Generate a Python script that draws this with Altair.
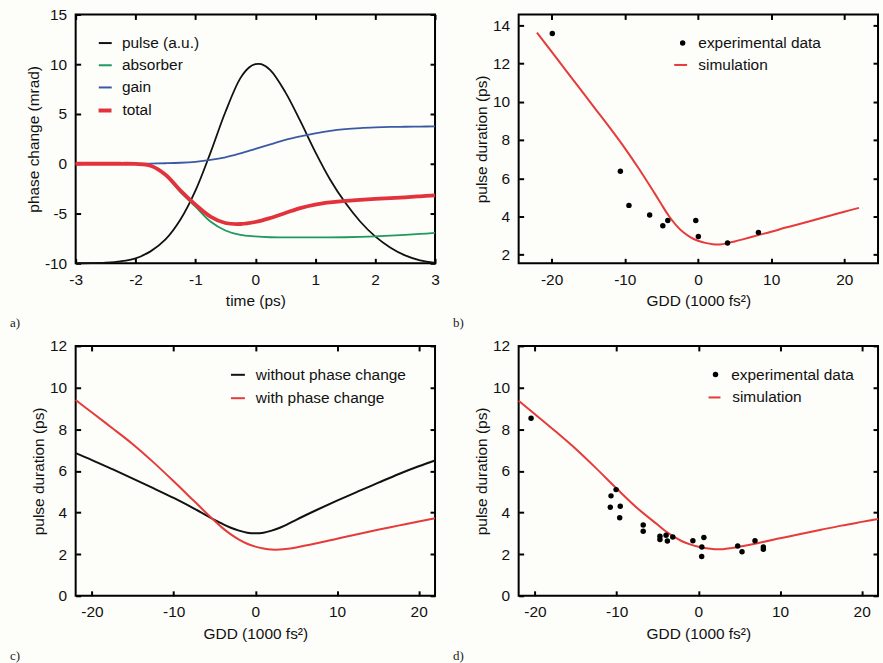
import altair as alt
import pandas as pd

# ---------------- data ----------------
# panel a: phase change vs time
time_pulse = [-3.0, -2.75, -2.5, -2.25, -2.0, -1.75, -1.5, -1.25, -1.0, -0.75, -0.5, -0.25,
              -0.1, 0.0, 0.1, 0.25, 0.5, 0.75, 1.0, 1.25, 1.5, 1.75, 2.0, 2.25, 2.5, 2.75, 3.0]
pulse_a = [-10.0, -9.98, -9.93, -9.8, -9.5, -8.8, -7.6, -5.6, -2.7, 1.1, 5.2, 8.6,
           9.7, 10.0, 10.0, 9.4, 7.2, 4.3, 1.2, -1.6, -3.9, -5.8, -7.3, -8.4, -9.2, -9.7, -9.95]
time_a = [-3.0, -2.75, -2.5, -2.25, -2.0, -1.75, -1.5, -1.25, -1.0, -0.75, -0.5, -0.25,
          0.0, 0.25, 0.5, 0.75, 1.0, 1.25, 1.5, 1.75, 2.0, 2.25, 2.5, 2.75, 3.0]
absorber_a = [0.0, 0.0, 0.0, 0.0, -0.02, -0.2, -1.15, -2.85, -4.3, -5.8, -6.7, -7.15,
              -7.3, -7.38, -7.4, -7.4, -7.4, -7.4, -7.38, -7.35, -7.3, -7.22, -7.14, -7.05, -6.95]
gain_a = [0.0, 0.0, 0.0, 0.0, 0.0, 0.02, 0.05, 0.1, 0.2, 0.38, 0.65, 1.05,
          1.5, 1.95, 2.4, 2.75, 3.05, 3.3, 3.47, 3.58, 3.65, 3.7, 3.72, 3.74, 3.75]
total_a = [0.0, 0.0, 0.0, 0.0, -0.02, -0.2, -1.1, -2.7, -4.1, -5.3, -5.95, -6.05,
           -5.85, -5.45, -4.95, -4.45, -4.1, -3.88, -3.72, -3.62, -3.53, -3.45, -3.37, -3.27, -3.17]
series_thin_a = ["pulse (a.u.)", "absorber", "gain"]
colors_thin_a = ["#111111", "#1d9a5c", "#3a5aa6"]
series_total_a = ["total"]
color_total_a = ["#e2323c"]

# panel b: experimental data + simulation
gdd_exp_b = [-19.9, -10.6, -9.43, -6.6, -4.8, -4.12, -0.3, 0.05, 4.04, 8.26]
dur_exp_b = [13.57, 6.37, 4.58, 4.08, 3.51, 3.79, 3.79, 2.95, 2.61, 3.16]
gdd_sim_b = [-22, -20, -18, -16, -14, -12, -10, -8, -6, -5, -4, -3, -2, -1, 0, 1, 2, 3, 4, 5,
             6, 8, 10, 12, 14, 16, 18, 20, 22]
dur_sim_b = [13.62, 12.62, 11.62, 10.62, 9.62, 8.62, 7.58, 6.46, 5.26, 4.64, 4.04, 3.55, 3.17,
             2.91, 2.73, 2.62, 2.55, 2.54, 2.6, 2.69, 2.79, 3.0, 3.2, 3.42, 3.62, 3.83, 4.04,
             4.25, 4.45]

# panel c: simulations with / without phase change
gdd_c = [-22, -20, -17.5, -15, -12.5, -10, -7.5, -5, -4, -3, -2, -1, 0, 1, 2, 3, 4, 5,
         7.5, 10, 12.5, 15, 17.5, 20, 22]
without_c = [6.85, 6.52, 6.08, 5.63, 5.17, 4.7, 4.19, 3.65, 3.45, 3.27, 3.13, 3.03, 3.0, 3.03,
             3.13, 3.27, 3.45, 3.65, 4.12, 4.57, 5.0, 5.42, 5.84, 6.22, 6.5]
with_c = [9.4, 8.8, 8.05, 7.28, 6.42, 5.5, 4.55, 3.6, 3.25, 2.95, 2.7, 2.5, 2.36, 2.27, 2.22,
          2.22, 2.26, 2.32, 2.52, 2.74, 2.96, 3.17, 3.37, 3.57, 3.72]

# panel d: experimental data + simulation
gdd_exp_d = [-20.48, -10.69, -10.07, -10.78, -9.56, -9.63, -6.75, -6.75, -4.7, -4.7, -3.95,
             -3.79, -3.13, -0.67, 0.43, 0.41, 0.68, 4.82, 5.35, 6.94, 7.96, 7.96]
dur_exp_d = [8.53, 4.80, 5.10, 4.25, 4.30, 3.75, 3.40, 3.10, 2.86, 2.70, 2.91,
             2.63, 2.82, 2.64, 2.34, 1.89, 2.80, 2.39, 2.12, 2.64, 2.34, 2.23]
gdd_sim_d = [-22, -20, -17.5, -15, -12.5, -10, -7.5, -5, -4, -3, -2, -1, 0, 1, 2, 3, 4, 5,
             7.5, 10, 12.5, 15, 17.5, 20, 22]
dur_sim_d = [9.37, 8.72, 7.9, 7.05, 6.12, 5.15, 4.22, 3.42, 3.1, 2.84, 2.62, 2.47, 2.36, 2.28,
             2.24, 2.24, 2.29, 2.36, 2.55, 2.76, 2.97, 3.17, 3.37, 3.55, 3.69]

ticks_a_x = [-3, -2, -1, 0, 1, 2, 3]
ticks_a_y = [-10, -5, 0, 5, 10, 15]
ticks_b_x = [-20, -10, 0, 10, 20]
ticks_b_y = [2, 4, 6, 8, 10, 12, 14]
ticks_cd_x = [-20, -10, 0, 10, 20]
ticks_cd_y = [0, 2, 4, 6, 8, 10, 12]

# ---------------- style helpers ----------------
FONT = "Liberation Sans"
FS = 15.5
TXT = "#111111"
W = 361
H_TOP = 250
H_BOT = 251
TICK = 5
TICK_COLOR = "#000000"
LABEL_EXPR = "(datum.value < 0 ? '-' : '') + abs(datum.value)"
INTERP = "catmull-rom"


def axis_main(orient, values, title):
    return alt.Axis(
        orient=orient, values=values, offset=-TICK, tickSize=TICK, tickWidth=2,
        tickColor=TICK_COLOR, domain=False, grid=False,
        labelPadding=9, labelFlush=False, labelOverlap=False, labelExpr=LABEL_EXPR,
        labelFont=FONT, labelFontSize=FS, labelColor=TXT,
        title=title, titleFont=FONT, titleFontSize=FS, titleFontWeight="normal",
        titleColor=TXT, titlePadding=6 if orient == "bottom" else 3,
    )


def axis_mirror(orient, values):
    return alt.Axis(
        orient=orient, values=values, offset=-TICK, tickSize=TICK, tickWidth=2,
        tickColor=TICK_COLOR, domain=False, grid=False, labels=False, title=None,
    )


def legend(x, y, symbol, size, **kw):
    return alt.Legend(
        orient="none", legendX=x, legendY=y, title=None, padding=0,
        symbolType=symbol, symbolSize=size, labelFont=FONT, labelFontSize=FS,
        labelColor=TXT, labelLimit=400, **kw,
    )


def panel_title(txt):
    return alt.TitleParams(
        txt, orient="bottom", anchor="start", frame="group", dx=-66, offset=8,
        font="Liberation Serif", fontSize=13, fontWeight="normal", color="#222222",
    )


# ---------------- panel a ----------------
rows = [{"t": t, "v": v, "series": series_thin_a[0]} for t, v in zip(time_pulse, pulse_a)]
for name, vals in zip(series_thin_a[1:], [absorber_a, gain_a]):
    for t, v in zip(time_a, vals):
        rows.append({"t": t, "v": v, "series": name})
df_a_thin = pd.DataFrame(rows)
df_a_total = pd.DataFrame({"t": time_a, "v": total_a, "series": "total"})

xs_a = alt.Scale(domain=[-3, 3], nice=False, zero=False)
ys_a = alt.Scale(domain=[-10, 15], nice=False, zero=False)

thin_a = alt.Chart(df_a_thin).mark_line(interpolate=INTERP, strokeWidth=1.8).encode(
    x=alt.X("t:Q", scale=xs_a, axis=axis_main("bottom", ticks_a_x, "time (ps)")),
    y=alt.Y("v:Q", scale=ys_a, axis=axis_main("left", ticks_a_y, "phase change (mrad)")),
    color=alt.Color("series:N", scale=alt.Scale(domain=series_thin_a, range=colors_thin_a),
                    legend=legend(22, 21, "stroke", 169, labelOffset=9, rowPadding=5.3,
                                  symbolStrokeWidth=2)),
)
tot_a = alt.Chart(df_a_total).mark_line(interpolate=INTERP, strokeWidth=3.8).encode(
    x=alt.X("t:Q", scale=xs_a, axis=axis_mirror("top", ticks_a_x)),
    y=alt.Y("v:Q", scale=ys_a, axis=axis_mirror("right", ticks_a_y)),
    stroke=alt.Stroke("series:N", scale=alt.Scale(domain=series_total_a, range=color_total_a),
                      legend=legend(21, 88, "stroke", 169, labelOffset=9, symbolStrokeWidth=4)),
)
panel_a = alt.layer(thin_a, tot_a).resolve_axis(x="independent", y="independent").properties(
    width=W, height=H_TOP, title=panel_title("a)"))

# ---------------- panel b ----------------
df_b_exp = pd.DataFrame({"g": gdd_exp_b, "d": dur_exp_b, "kind": "experimental data"})
df_b_sim = pd.DataFrame({"g": gdd_sim_b, "d": dur_sim_b, "kind": "simulation"})
xs_b = alt.Scale(domain=[-24.5, 24.6], nice=False, zero=False)
ys_b = alt.Scale(domain=[1.55, 14.57], nice=False, zero=False)

sim_b = alt.Chart(df_b_sim).mark_line(interpolate=INTERP, strokeWidth=2).encode(
    x=alt.X("g:Q", scale=xs_b, axis=axis_mirror("top", ticks_b_x)),
    y=alt.Y("d:Q", scale=ys_b, axis=axis_mirror("right", ticks_b_y)),
    stroke=alt.Stroke("kind:N", scale=alt.Scale(domain=["simulation"], range=["#e53b3b"]),
                      legend=legend(155, 43, "stroke", 169, labelOffset=10, symbolStrokeWidth=2)),
)
exp_b = alt.Chart(df_b_exp).mark_circle(size=30, opacity=1).encode(
    x=alt.X("g:Q", scale=xs_b, axis=axis_main("bottom", ticks_b_x, "GDD (1000 fs²)")),
    y=alt.Y("d:Q", scale=ys_b, axis=axis_main("left", ticks_b_y, "pulse duration (ps)")),
    color=alt.Color("kind:N", scale=alt.Scale(domain=["experimental data"], range=["#000000"]),
                    legend=legend(157, 21, "circle", 30, labelOffset=8)),
)
panel_b = alt.layer(sim_b, exp_b).resolve_axis(x="independent", y="independent").properties(
    width=W, height=H_TOP, title=panel_title("b)"))

# ---------------- panel c ----------------
names_c = ["without phase change", "with phase change"]
df_c = pd.DataFrame(
    [{"g": g, "d": v, "kind": names_c[0]} for g, v in zip(gdd_c, without_c)]
    + [{"g": g, "d": v, "kind": names_c[1]} for g, v in zip(gdd_c, with_c)])
xs_cd = alt.Scale(domain=[-22, 22], nice=False, zero=False)
ys_cd = alt.Scale(domain=[0, 12], nice=False, zero=False)
leg_c = legend(155, 21, "stroke", 196, labelOffset=10, symbolStrokeWidth=2, rowPadding=6.5)
col_c = alt.Color("kind:N", scale=alt.Scale(domain=names_c, range=["#111111", "#e53b3b"]),
                  legend=leg_c)

wo_c = alt.Chart(df_c).transform_filter(f"datum.kind == '{names_c[0]}'").mark_line(
    interpolate=INTERP, strokeWidth=2).encode(
    x=alt.X("g:Q", scale=xs_cd, axis=axis_main("bottom", ticks_cd_x, "GDD (1000 fs²)")),
    y=alt.Y("d:Q", scale=ys_cd, axis=axis_main("left", ticks_cd_y, "pulse duration (ps)")),
    color=col_c,
)
wi_c = alt.Chart(df_c).transform_filter(f"datum.kind == '{names_c[1]}'").mark_line(
    interpolate=INTERP, strokeWidth=2).encode(
    x=alt.X("g:Q", scale=xs_cd, axis=axis_mirror("top", ticks_cd_x)),
    y=alt.Y("d:Q", scale=ys_cd, axis=axis_mirror("right", ticks_cd_y)),
    color=col_c,
)
panel_c = alt.layer(wo_c, wi_c).resolve_axis(x="independent", y="independent").properties(
    width=W, height=H_BOT, title=panel_title("c)"))

# ---------------- panel d ----------------
df_d_exp = pd.DataFrame({"g": gdd_exp_d, "d": dur_exp_d, "kind": "experimental data"})
df_d_sim = pd.DataFrame({"g": gdd_sim_d, "d": dur_sim_d, "kind": "simulation"})

sim_d = alt.Chart(df_d_sim).mark_line(interpolate=INTERP, strokeWidth=2).encode(
    x=alt.X("g:Q", scale=xs_cd, axis=axis_mirror("top", ticks_cd_x)),
    y=alt.Y("d:Q", scale=ys_cd, axis=axis_mirror("right", ticks_cd_y)),
    stroke=alt.Stroke("kind:N", scale=alt.Scale(domain=["simulation"], range=["#e53b3b"]),
                      legend=legend(189, 44, "stroke", 144, labelOffset=10, symbolStrokeWidth=2)),
)
exp_d = alt.Chart(df_d_exp).mark_circle(size=30, opacity=1).encode(
    x=alt.X("g:Q", scale=xs_cd, axis=axis_main("bottom", ticks_cd_x, "GDD (1000 fs²)")),
    y=alt.Y("d:Q", scale=ys_cd, axis=axis_main("left", ticks_cd_y, "pulse duration (ps)")),
    color=alt.Color("kind:N", scale=alt.Scale(domain=["experimental data"], range=["#000000"]),
                    legend=legend(190, 21, "circle", 30, labelOffset=8)),
)
panel_d = alt.layer(sim_d, exp_d).resolve_axis(x="independent", y="independent").properties(
    width=W, height=H_BOT, title=panel_title("d)"))

# ---------------- layout ----------------
chart = alt.concat(
    panel_a, panel_b, panel_c, panel_d, columns=2,
    spacing={"row": 83, "column": 84}, bounds="flush",
).resolve_scale(
    color="independent", stroke="independent"
).properties(
    background="#fdfdfa",
    padding={"left": 9, "top": 5, "right": 0, "bottom": 0},
).configure_view(
    stroke="black", strokeWidth=2, fill=None,
)

chart.save("out.html", embed_options={"renderer": "svg", "actions": False})
